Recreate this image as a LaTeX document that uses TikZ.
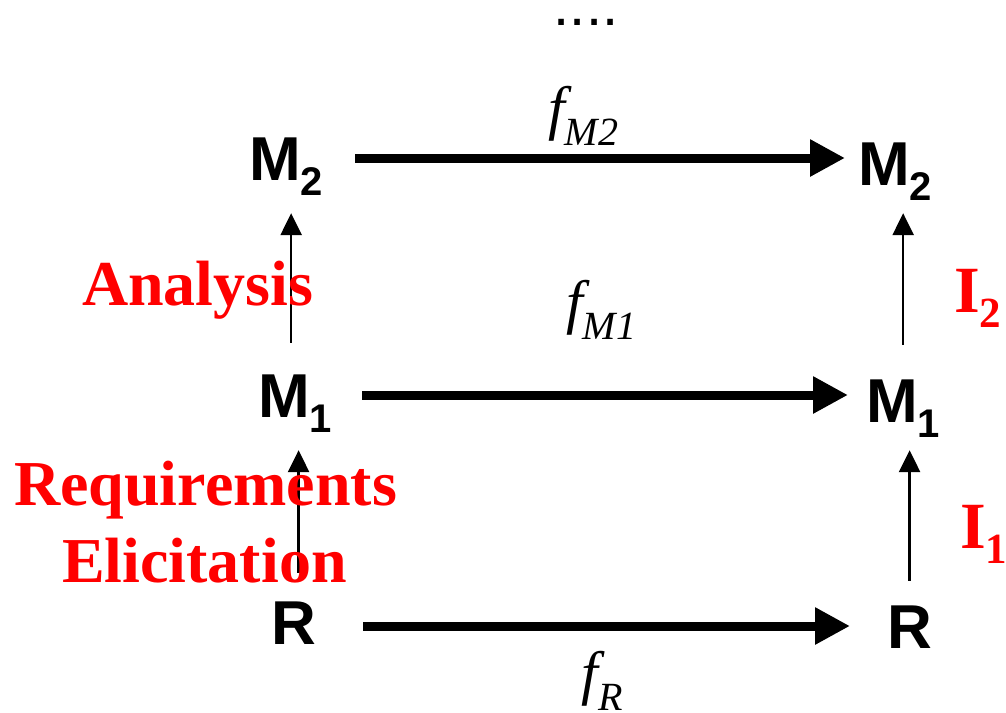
\documentclass[tikz,border=0pt]{standalone}
\usepackage{fontspec}
\setmainfont{Liberation Serif}
\setsansfont{Liberation Sans}
\usepackage{xcolor}
\usetikzlibrary{arrows.meta}

\begin{document}
\begin{tikzpicture}[
  x=1pt, y=-1pt,
  obj/.style={font=\fontsize{62}{70}\selectfont\sffamily\bfseries,
              inner sep=0pt, anchor=base west,
              text height=44pt, text depth=0pt},
  lab/.style={font=\fontsize{64}{70}\selectfont\bfseries, text=red,
              inner sep=0pt, anchor=base west},
  fn/.style={font=\fontsize{60}{66}\selectfont\itshape,
             inner sep=0pt, anchor=base},
  bigarr/.style={-{Triangle[length=35pt, width=35pt]}, line width=9pt},
  smallarr/.style={-{Triangle[length=22pt, width=21pt]}, line width=2.6pt}
]
  \useasboundingbox (0,0) rectangle (1006,712);

  % --- subscripts ---
  \newcommand{\objsub}[2]{#1\raisebox{-15pt}{\fontsize{40}{44}\selectfont #2}}
  \newcommand{\fnsub}[2]{#1\raisebox{-17pt}{\fontsize{40}{44}\selectfont #2}}

  % --- continuation dots ---
  \node[font=\fontsize{58}{60}\selectfont\sffamily, inner sep=0pt,
        text height=8pt, anchor=base] (dots) at (586, 25) {....};

  % --- left column ---
  \node[obj] (m2l) at (249, 180) {\objsub{M}{2}};
  \node[obj] (m1l) at (258, 417) {\objsub{M}{1}};
  \node[obj] (rl)  at (271, 644) {R};

  % --- right column ---
  \node[obj] (m2r) at (858, 185) {\objsub{M}{2}};
  \node[obj] (m1r) at (866, 422) {\objsub{M}{1}};
  \node[obj] (rr)  at (887, 648) {R};

  % --- horizontal maps ---
  \draw[bigarr, shorten <=32pt, shorten >=13pt]
    (m2l.east) -- (m2r.west |- m2l.east);
  \draw[bigarr, shorten <=30pt, shorten >=18pt]
    (m1l.east) -- (m1r.west |- m1l.east);
  \draw[bigarr, shorten <=47pt, shorten >=37pt]
    ([yshift=-4pt]rl.east) -- ([yshift=-4pt]rr.west |- rl.east);

  \node[fn] (fm2) at (583, 128) {\fnsub{f}{M2}};
  \node[fn] (fm1) at (601, 322) {\fnsub{f}{M1}};
  \node[fn] (fr)  at (602, 693) {\fnsub{f}{R}};

  % --- vertical steps ---
  \draw[smallarr] ([xshift=-4pt, yshift=30pt]m1l.north)
    -- ([xshift=-4pt, yshift=-33pt]m2l.south -| m1l.north);
  \draw[smallarr] ([xshift=5pt, yshift=27pt]rl.north)
    -- ([xshift=5pt, yshift=-33pt]m1l.south -| rl.north);
  \draw[smallarr] ([yshift=33pt]m1r.north) -- ([yshift=-28pt]m2r.south -| m1r.north);
  \draw[smallarr] ([yshift=23pt]rr.north) -- ([yshift=-28pt]m1r.south -| rr.north);

  % --- red labels ---
  \node[lab] (ana) at (82, 305) {Analysis};
  \node[lab] (req) at (14, 505) {Requirements};
  \node[lab] (eli) at (62, 582) {Elicitation};
  \node[lab, font=\fontsize{66}{70}\selectfont\bfseries] (i2) at (954, 312)
    {I\raisebox{-15pt}{\fontsize{43}{46}\selectfont 2}};
  \node[lab, font=\fontsize{66}{70}\selectfont\bfseries] (i1) at (960, 548)
    {I\raisebox{-15pt}{\fontsize{43}{46}\selectfont 1}};
\end{tikzpicture}
\end{document}
